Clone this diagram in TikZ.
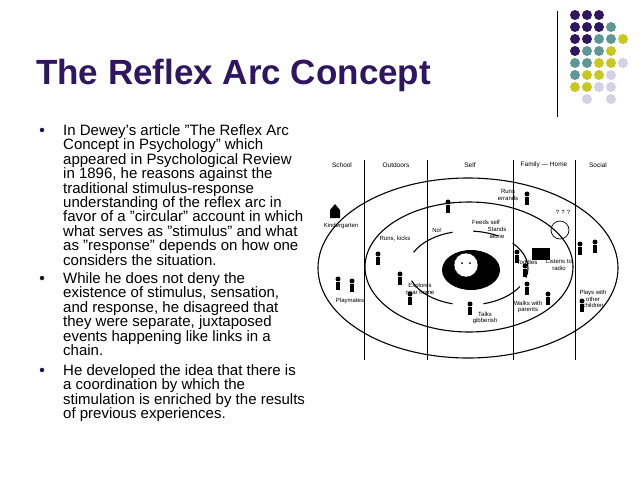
\documentclass[tikz,border=0pt]{standalone}
\usepackage{fontspec}
\setmainfont{Liberation Sans}
\definecolor{dk}{HTML}{2E1660}
\definecolor{tl}{HTML}{5F9797}
\definecolor{yl}{HTML}{C8C81E}
\definecolor{lt}{HTML}{D2D2E6}
\begin{document}
\begin{tikzpicture}[x=1pt,y=-1pt,
  dot/.style={circle,inner sep=0,minimum size=10pt},
  bul/.style={anchor=north west,align=left,font=\fontsize{15}{14.4}\selectfont,inner sep=0},
  lab/.style={font=\fontsize{6}{6.5}\selectfont,align=center,inner sep=1pt},
  col/.style={font=\fontsize{6.5}{7}\selectfont,inner sep=0},
  ring/.style={line width=1.1pt}]
\useasboundingbox (0,0) rectangle (640,480);
% dots
\draw[line width=1pt] (557,11) -- (557,117);
\foreach \r/\row in {0/{dk,dk,dk},1/{dk,dk,dk,tl},2/{dk,dk,tl,tl,yl},3/{dk,tl,tl,yl},4/{tl,tl,yl,yl,lt},5/{tl,yl,yl,lt},6/{yl,yl,lt,lt}}{
  \foreach \c [count=\i from 0] in \row { \node[dot,fill=\c] (d\r\i) at (575+12*\i,15+12*\r) {}; } }
\node[dot,fill=lt] (d71) at (587,99) {};
\node[dot,fill=lt] (d73) at (611,99) {};
% title
\node[anchor=west,text=dk,font=\fontsize{35}{35}\selectfont\bfseries,inner sep=0] (title) at (36,75) {The Reflex Arc Concept};
% bullets
\foreach \y [count=\k] in {130,278,370}{ \node[circle,fill=dk!70!black,inner sep=0,minimum size=4.5pt] (b\k) at (42,\y) {}; }
\node[bul] (t1) at (63,124.5) {In Dewey's article "The Reflex Arc\\Concept in Psychology" which\\appeared in Psychological Review\\in 1896, he reasons against the\\traditional stimulus-response\\understanding of the reflex arc in\\favor of a "circular" account in which\\what serves as "stimulus" and what\\as "response" depends on how one\\considers the situation.};
\node[bul] (t2) at (63,272.5) {While he does not deny the\\existence of stimulus, sensation,\\and response, he disagreed that\\they were separate, juxtaposed\\events happening like links in a\\chain.};
\node[bul] (t3) at (63,364.5) {He developed the idea that there is\\a coordination by which the\\stimulation is enriched by the results\\of previous experiences.};
% diagram
\foreach \x [count=\k] in {364,427,513,575}{ \draw[line width=0.8pt] (\x,160) coordinate (v\k a) -- (\x,360) coordinate (v\k b); }
\node[col] (cs) at (342,165) {School};
\node[col] (co) at (396,165) {Outdoors};
\node[col] (cf) at (470,165) {Self};
\node[col] (ch) at (544,165) {Family --- Home};
\node[col] (cc) at (598,165) {Social};
\draw[ring] (468,268) ellipse [x radius=150,y radius=90];
\draw[ring] (469,267) ellipse [x radius=104,y radius=65];
\draw[ring] ([shift={(205:60 and 37)}]468,268) arc[start angle=205,end angle=255,x radius=60,y radius=37];
\draw[ring] ([shift={(275:60 and 37)}]468,268) arc[start angle=275,end angle=300,x radius=60,y radius=37];
\draw[ring] ([shift={(318:60 and 37)}]468,268) arc[start angle=318,end angle=375,x radius=60,y radius=37];
\draw[ring] ([shift={(30:60 and 37)}]468,268) arc[start angle=30,end angle=75,x radius=60,y radius=37];
\draw[ring] ([shift={(105:60 and 37)}]468,268) arc[start angle=105,end angle=160,x radius=60,y radius=37];
\fill (471,270) ellipse [x radius=29,y radius=20];
\fill[white] (466,265) circle (12);
\draw (466,265) circle (12);
\fill (462,263) circle (1) (470,263) circle (1);
% simple figures
\foreach \x/\y in {378/260,448/208,517/258,527/290,548/300,582/307,338/285,352/287,410/300,400/280,470/310,525/272,527/200,580/250,595/248}{
  \fill (\x,\y-6) circle (2.5); \fill (\x-2,\y-3) rectangle (\x+2,\y+5); }
\fill (330,210) -- (335,204) -- (340,210) -- (340,218) -- (330,218) -- cycle;
\fill (532,248) rectangle (550,260);
\draw[line width=0.7pt] (560,230) circle (9);
\node[lab] (qq) at (563,212) {? ? ?};
% labels
\node[lab] (kg) at (341,226) {Kindergarten};
\node[lab] (pm) at (350,301) {Playmates};
\node[lab] (rk) at (395,239) {Runs, kicks};
\node[lab] (no) at (437,230) {No!};
\node[lab] (fs) at (486,222) {Feeds self};
\node[lab] (sa) at (497,233) {Stands\\alone};
\node[lab] (re) at (508,195) {Runs\\errands};
\node[lab] (td) at (527,262) {Toddles};
\node[lab] (lr) at (559,265) {Listens to\\radio};
\node[lab] (en) at (420,289) {Explores\\near home};
\node[lab] (tg) at (485,318) {Talks\\gibberish};
\node[lab] (wp) at (528,307) {Walks with\\parents};
\node[lab] (pw) at (593,299) {Plays with\\other\\children};
\end{tikzpicture}
\end{document}
